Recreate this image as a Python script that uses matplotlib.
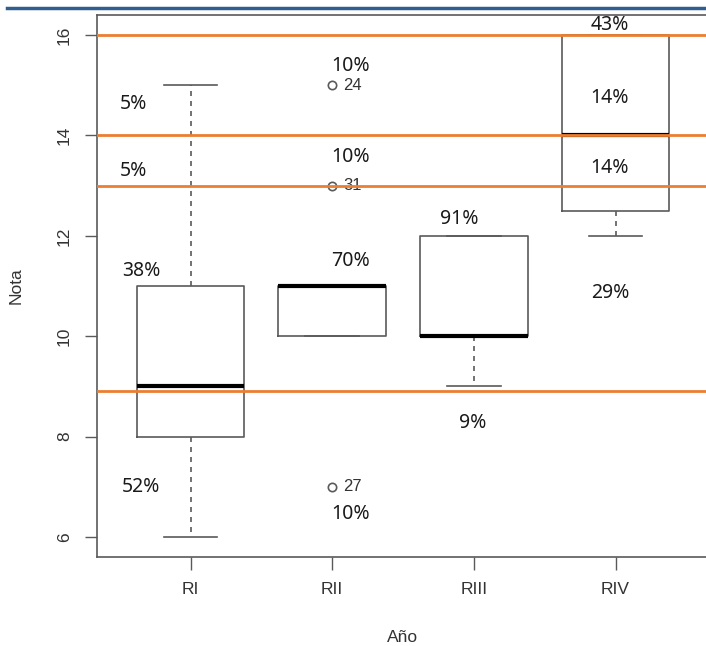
import matplotlib
matplotlib.use("Agg")
import matplotlib.pyplot as plt
from matplotlib.lines import Line2D

# data
grupos = ["RI", "RII", "RIII", "RIV"]
bigote_inf = [6, 10, 9, 12]
q1 = [8, 10, 10, 12.5]
mediana = [9, 11, 10, 14]
q3 = [11, 11, 12, 16]
bigote_sup = [15, 11, 12, 16]
atipicos = [[], [15, 13, 7], [], []]
etiquetas_atipicos = [[], ["24", "31", "27"], [], []]

# cut lines (orange) and percentage notes
cortes = [16, 14, 13, 8.9]
notas_x = [0.6, 0.6, 0.65, 0.65, 2.13, 2.13, 2.13, 2.13, 2.9, 2.99, 3.96, 3.96, 3.96, 3.96]
notas_y = [14.63, 13.3, 11.29, 7.0, 15.38, 13.57, 11.5, 6.45, 12.34, 8.27, 16.2, 14.75, 13.36, 10.87]
notas_txt = ["5%", "5%", "38%", "52%", "10%", "10%", "70%", "10%", "91%", "9%",
             "43%", "14%", "14%", "29%"]

fig = plt.figure(figsize=(7.06, 6.46), dpi=100)
ax = fig.add_axes([97/706, 1-557/646, 612/706, 542/646])

stats = []
for i, g in enumerate(grupos):
    stats.append(dict(label=g, whislo=bigote_inf[i], q1=q1[i], med=mediana[i],
                      q3=q3[i], whishi=bigote_sup[i], fliers=atipicos[i]))

gris = "#5a5a5a"
ax.bxp(stats, positions=[1, 2, 3, 4], widths=0.76, showfliers=True,
       boxprops=dict(color=gris, lw=1.2),
       whiskerprops=dict(color=gris, lw=1.2, linestyle=(0, (3, 3))),
       capprops=dict(color=gris, lw=1.2),
       medianprops=dict(color="black", lw=3),
       flierprops=dict(marker="o", markerfacecolor="none", markeredgecolor=gris,
                       markersize=6, markeredgewidth=1.2))

for i in range(len(grupos)):
    for v, t in zip(atipicos[i], etiquetas_atipicos[i]):
        ax.text(i + 1 + 0.08, v, t, fontsize=12, color="#333333",
                family="Liberation Sans", va="center", ha="left")

for c in cortes:
    ax.axhline(c, color="#ED7D31", lw=2, zorder=5)

for x, y, t in zip(notas_x, notas_y, notas_txt):
    ax.text(x, y, t, fontsize=14, color="#1a1a1a", family="Noto Sans",
            ha="center", va="center", zorder=6)

ax.set_xlim(0.34, 4.66)
ax.set_ylim(5.6, 16.4)
ax.set_yticks([6, 8, 10, 12, 14, 16])
ax.set_yticklabels(["6", "8", "10", "12", "14", "16"], rotation=90, va="center")
ax.tick_params(axis="both", length=9, width=1, color=gris, labelsize=12.5,
               labelcolor="#333333", pad=9)
for lab in ax.get_xticklabels() + ax.get_yticklabels():
    lab.set_family("Liberation Sans")
for s in ax.spines.values():
    s.set_color(gris)
    s.set_linewidth(1.2)
ax.spines["right"].set_visible(False)

ax.set_xlabel("Año", fontsize=12.5, color="#333333", family="Liberation Sans", labelpad=24)
ax.set_ylabel("Nota", fontsize=12.5, color="#333333", family="Liberation Sans", labelpad=24)

# blue rule along the top
fig.add_artist(Line2D([7/706, 1], [1-8/646, 1-8/646], color="#2F5F8F", lw=2.5))

fig.savefig("out.png", dpi=100)
